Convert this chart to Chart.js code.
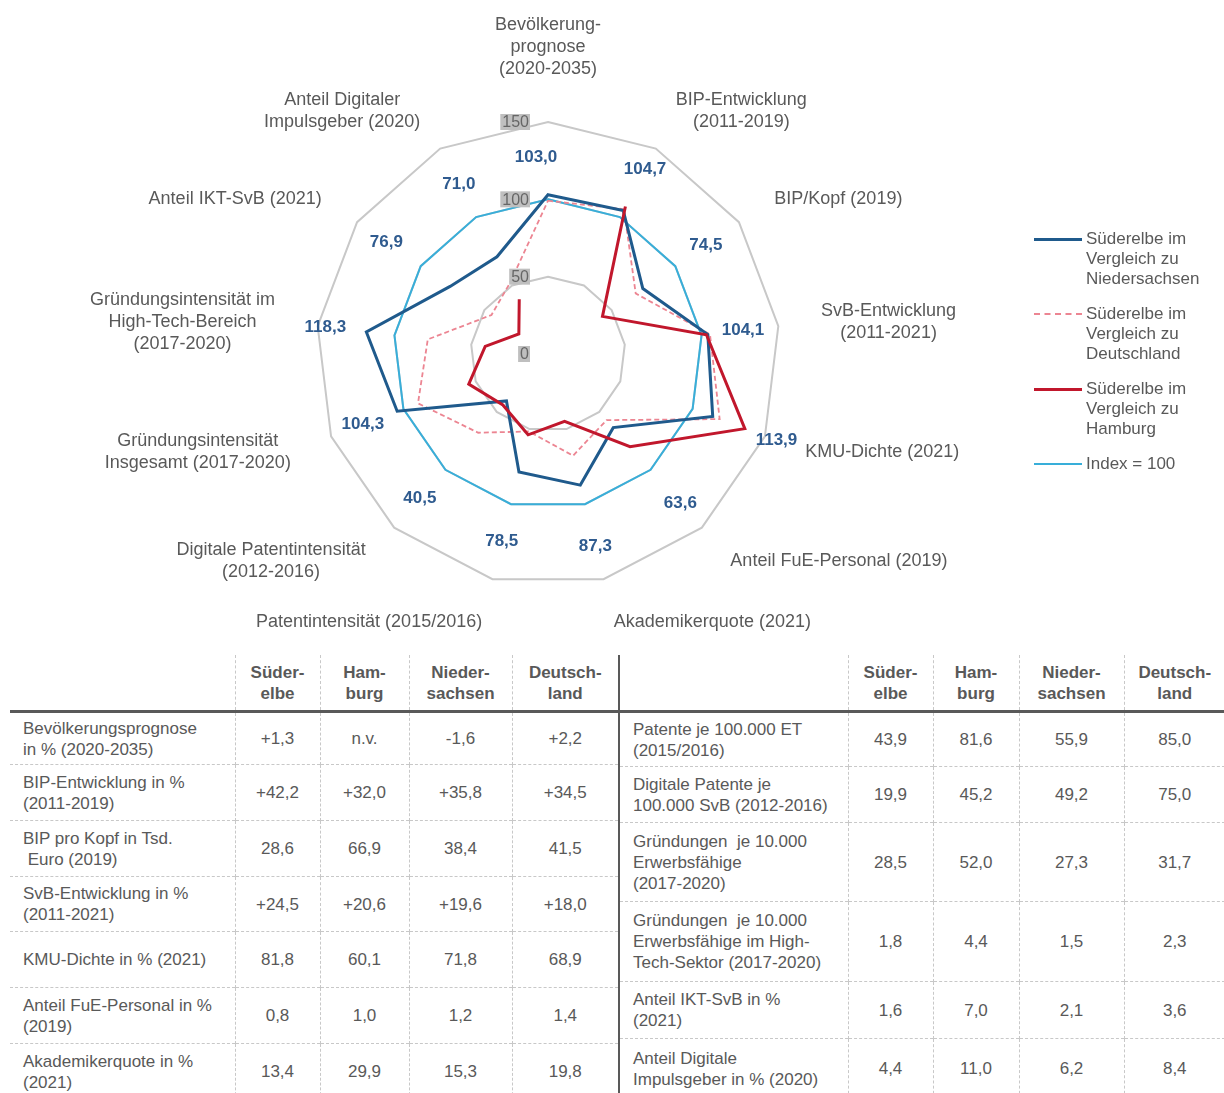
<!DOCTYPE html>
<html lang="de">
<head>
<meta charset="utf-8">
<title>Süderelbe im Vergleich</title>
<script src="https://cdn.jsdelivr.net/npm/chart.js@4.4.1/dist/chart.umd.min.js"></script>
<style>
body{margin:0;background:#fff;font-family:"Liberation Sans",Arial,sans-serif;color:#595959}
#chartbox{position:absolute;left:0;top:0;width:1224px;height:640px}
#legend{position:absolute;left:1034px;top:229px;font-size:17px;line-height:20px}
.li{position:relative;padding-left:52px;margin-bottom:15px;white-space:nowrap}
.li i{position:absolute;left:0;width:48px}
table{position:absolute;top:655px;border-collapse:collapse;table-layout:fixed;font-size:17px;line-height:21px;color:#595959}
th{font-weight:bold;text-align:center;vertical-align:middle;padding:0;height:55px;border-bottom:3px solid #595959}
td{text-align:center;vertical-align:middle;padding:0;border-top:1px dashed #c8c8c8}
th+th,td+td{border-left:1px dashed #c8c8c8}
td.lab{text-align:left;padding-left:13px}
#tR th:first-child,#tR td:first-child{border-left:2px solid #595959}
#tL{left:10px;width:608px}
#tR{left:618px;width:606px}
</style>
</head>
<body>
<div id="chartbox"><canvas id="c"></canvas></div>
<div id="legend"></div>
<table id="tL"></table>
<table id="tR"></table>
<script>
const $ = s => document.querySelector(s);

// axes, clockwise from the top
const categories = [
  ['Bevölkerung-','prognose','(2020-2035)'],
  ['BIP-Entwicklung','(2011-2019)'],
  ['BIP/Kopf (2019)'],
  ['SvB-Entwicklung','(2011-2021)'],
  ['KMU-Dichte (2021)'],
  ['Anteil FuE-Personal (2019)'],
  ['Akademikerquote (2021)'],
  ['Patentintensität (2015/2016)'],
  ['Digitale Patentintensität','(2012-2016)'],
  ['Gründungsintensität','Insgesamt (2017-2020)'],
  ['Gründungsintensität im','High-Tech-Bereich','(2017-2020)'],
  ['Anteil IKT-SvB (2021)'],
  ['Anteil Digitaler','Impulsgeber (2020)']
];
const vsNiedersachsen = [103.0,104.7,74.5,104.1,113.9,63.6,87.3,78.5,40.5,104.3,118.3,76.9,71.0];
const vsDeutschland   = [99.1,105.7,68.9,105.5,118.7,57.1,67.7,51.6,68.0,89.9,78.3,44.4,52.4];
const vsHamburg       = [null,107.7,42.8,103.2,136.1,80.0,44.8,53.8,44.0,54.8,40.9,22.9,40.0];
const index100        = [100,100,100,100,100,100,100,100,100,100,100,100,100];
const tickLabels      = [0,50,100,150];

// table
const headCols = ['Süder-<br>elbe','Ham-<br>burg','Nieder-<br>sachsen','Deutsch-<br>land'];
const rowsLeft = [
  ['Bevölkerungsprognose<br>in % (2020-2035)','+1,3','n.v.','-1,6','+2,2'],
  ['BIP-Entwicklung in %<br>(2011-2019)','+42,2','+32,0','+35,8','+34,5'],
  ['BIP pro Kopf in Tsd.<br>&nbsp;Euro (2019)','28,6','66,9','38,4','41,5'],
  ['SvB-Entwicklung in %<br>(2011-2021)','+24,5','+20,6','+19,6','+18,0'],
  ['KMU-Dichte in % (2021)','81,8','60,1','71,8','68,9'],
  ['Anteil FuE-Personal in %<br>(2019)','0,8','1,0','1,2','1,4'],
  ['Akademikerquote in %<br>(2021)','13,4','29,9','15,3','19,8']
];
const rowsRight = [
  ['Patente je 100.000 ET<br>(2015/2016)','43,9','81,6','55,9','85,0'],
  ['Digitale Patente je<br>100.000 SvB (2012-2016)','19,9','45,2','49,2','75,0'],
  ['Gründungen&nbsp; je 10.000<br>Erwerbsfähige<br>(2017-2020)','28,5','52,0','27,3','31,7'],
  ['Gründungen&nbsp; je 10.000<br>Erwerbsfähige im High-<br>Tech-Sektor (2017-2020)','1,8','4,4','1,5','2,3'],
  ['Anteil IKT-SvB in %<br>(2021)','1,6','7,0','2,1','3,6'],
  ['Anteil Digitale<br>Impulsgeber in % (2020)','4,4','11,0','6,2','8,4']
];

const FONT = '"Liberation Sans", Arial, sans-serif';
const C = {nds:'#1f5a8c', de:'#ec8592', hh:'#c1172c', idx:'#38aed9', val:'#2f5b8f'};

// legend (html, real text)
const legendItems = [
  ['Süderelbe im<br>Vergleich zu<br>Niedersachsen', `border-top:3px solid ${C.nds};top:8.5px`],
  ['Süderelbe im<br>Vergleich zu<br>Deutschland', `border-top:2px dashed ${C.de};top:9px`],
  ['Süderelbe im<br>Vergleich zu<br>Hamburg', `border-top:3px solid ${C.hh};top:8.5px`],
  ['Index = 100', `border-top:2px solid ${C.idx};top:9px`]
];
$('#legend').innerHTML = legendItems.map(([t,s])=>`<div class="li"><i style="${s}"></i>${t}</div>`).join('');

function buildTable(el, rows, widths, heights){
  let h = '<colgroup>'+widths.map(w=>`<col style="width:${w}px">`).join('')+'</colgroup>';
  h += '<thead><tr><th></th>'+headCols.map(c=>`<th>${c}</th>`).join('')+'</tr></thead><tbody>';
  rows.forEach((r,i)=>{
    h += `<tr style="height:${heights[i]}px"><td class="lab">${r[0]}</td>`+r.slice(1).map(v=>`<td>${v}</td>`).join('')+'</tr>';
  });
  el.innerHTML = h+'</tbody>';
  el.querySelectorAll('tbody tr:first-child td').forEach(td=>td.style.borderTop='none');
}
buildTable($('#tL'), rowsLeft, [225,85,89,103,106], [53,56,56,55,56,56,56]);
buildTable($('#tR'), rowsRight, [229,85,86,105,101], [55,56,79,80,57,60]);

// where the blue numbers sit, in scale units
const valueLabelAt = [127,135,124,127,158,129,128,125,125,128,145,127,124];

const radarText = {
  id:'radarText',
  afterDatasetsDraw(chart){
    const sc = chart.scales.r, ctx = chart.ctx;
    ctx.save();
    // tick labels on grey boxes, left of the vertical axis
    ctx.font = '16px '+FONT; ctx.textAlign='right'; ctx.textBaseline='middle';
    tickLabels.forEach(t=>{
      const y = sc.yCenter - sc.getDistanceFromCenterForValue(t), x = sc.xCenter - 19;
      const w = ctx.measureText(String(t)).width;
      ctx.fillStyle='#bfbfbf'; ctx.fillRect(x-w-2, y-8, w+3, 16);
      ctx.fillStyle='#666'; ctx.fillText(String(t), x, y+1);
    });
    // Niedersachsen values
    ctx.font = 'bold 17px '+FONT; ctx.textAlign='center'; ctx.fillStyle=C.val;
    vsNiedersachsen.forEach((v,i)=>{
      const p = sc.getPointPosition(i, sc.getDistanceFromCenterForValue(valueLabelAt[i]));
      ctx.fillText(v.toFixed(1).replace('.',','), p.x - (i===0?12:0), p.y);
    });
    // axis names
    ctx.font = '18px '+FONT; ctx.fillStyle='#595959';
    const lh = 22;
    categories.forEach((lines,i)=>{
      const p = sc.getPointPosition(i, sc.drawingArea + 43);
      const W = Math.max(...lines.map(l=>ctx.measureText(l).width));
      const dx = p.x - sc.xCenter, dy = p.y - sc.yCenter;
      const left = dx > 1 ? p.x : dx < -1 ? p.x - W : p.x - W/2;
      const H = lines.length*lh;
      const top = (Math.abs(dx) <= 1 && dy < 0) ? p.y - H : p.y - H/2;
      lines.forEach((l,k)=>ctx.fillText(l, left + W/2, top + lh*k + lh/2 + 1));
    });
    ctx.restore();
  }
};

new Chart($('#c'), {
  type:'radar',
  data:{labels:categories, datasets:[
    {label:'Süderelbe im Vergleich zu Hamburg', data:vsHamburg, borderColor:C.hh, borderWidth:3, fill:false, spanGaps:false, order:0},
    {label:'Süderelbe im Vergleich zu Niedersachsen', data:vsNiedersachsen, borderColor:C.nds, borderWidth:3, fill:false, order:1},
    {label:'Süderelbe im Vergleich zu Deutschland', data:vsDeutschland, borderColor:C.de, borderWidth:1.8, borderDash:[5,3], fill:false, order:2},
    {label:'Index = 100', data:index100, borderColor:C.idx, borderWidth:2, fill:false, order:3}
  ]},
  options:{
    responsive:true, maintainAspectRatio:false, animation:false, events:[],
    layout:{padding:{left:316,right:443,top:122,bottom:53}},
    elements:{line:{tension:0}, point:{radius:0,hoverRadius:0}},
    plugins:{legend:{display:false}, tooltip:{enabled:false}},
    scales:{r:{min:0,max:150,
      ticks:{stepSize:50,display:false},
      grid:{color:'#c8c8c8',lineWidth:2},
      angleLines:{display:false},
      pointLabels:{display:false}}}
  },
  plugins:[radarText]
});
</script>
</body>
</html>
